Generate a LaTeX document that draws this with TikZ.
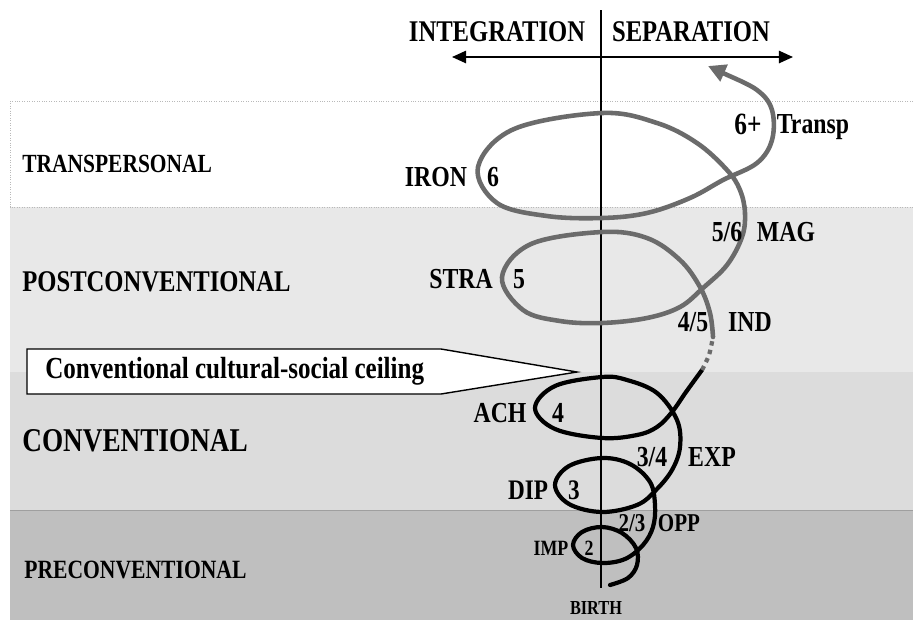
\documentclass[tikz,border=0pt]{standalone}
\usepackage{fontspec}
\setmainfont{Liberation Serif}[FakeStretch=0.82]
\usepackage{tikz}
\usetikzlibrary{arrows.meta}
\usepackage{xcolor}
\definecolor{postc}{HTML}{E8E8E8}
\definecolor{conc}{HTML}{DCDCDC}
\definecolor{prec}{HTML}{BFBFBF}
\definecolor{helixgray}{HTML}{6B6B6B}
\tikzset{lvl/.style={font=\bfseries\fontsize{17.1}{19}\selectfont, inner sep=0pt, anchor=west},
  stage/.style={font=\bfseries\fontsize{16.5}{18}\selectfont, inner sep=0pt, text depth=0pt},
  helix/.style={line width=2.4pt, line cap=round, line join=round}}

\begin{document}
\begin{tikzpicture}[x=0.02cm, y=-0.02cm]
\useasboundingbox (0,0) rectangle (913,620);
\fill[white] (0,0) rectangle (913,620);

\fill[postc] (10,207) rectangle (913,372);
\fill[conc] (10,372) rectangle (913,510);
\fill[prec] (10,510) rectangle (913,620);
\draw[densely dotted, gray!55] (913,101) -- (10,101) -- (10,207) -- (913,207);
\draw[gray!75] (10,510) -- (913,510);

\node[lvl, font=\bfseries\fontsize{14.9}{17}\selectfont] (transpers) at (22,164) {TRANSPERSONAL};
\node[lvl] (postconv) at (22,282) {POSTCONVENTIONAL};
\node[lvl, font=\bfseries\fontsize{18.9}{21}\selectfont] (conv) at (22,441) {CONVENTIONAL};
\node[lvl, font=\bfseries\fontsize{15}{17}\selectfont] (preconv) at (24,570) {PRECONVENTIONAL};

\coordinate (axtop) at (601,10);
\coordinate (axbot) at (601,588);
\draw[line width=1pt] (axtop) -- (axbot);
\coordinate (intl) at (452,57);
\coordinate (sepr) at (793,57);
\draw[line width=1pt, {Triangle[length=8pt,width=7pt]}-{Triangle[length=8pt,width=7pt]}] (intl) -- (sepr);
\node[stage, font=\bfseries\fontsize{17.1}{19}\selectfont] (integ) at (497,32) {INTEGRATION};
\node[stage, font=\bfseries\fontsize{17.1}{19}\selectfont] (separ) at (691,32) {SEPARATION};

\draw[fill=white, line width=0.8pt] (27,349) -- (441,349) -- (577,372) -- (441,394) -- (27,394) -- cycle;
\node[lvl, font=\bfseries\fontsize{17.4}{19}\selectfont] (ceiling) at (45,371) {Conventional cultural-social ceiling};

\draw[helix] plot[smooth, tension=0.6] coordinates {(610,585) (628,578) (637,565) (636,548) (622,533) (602,527) (582,532) (573,545) (582,558) (602,563) (625,559) (643,545) (653,527) (655,505) (650,482) (630,464) (602,458) (569,466) (555,485) (569,504) (602,512) (637,505) (656,490) (672,470) (680,447) (677,420) (657,393) (627,380) (602,377) (555,386) (535,408) (555,429) (602,438) (637,435) (657,427) (672,412) (686,392) (702,370)};
\draw[helix, helixgray, line cap=butt, dash pattern=on 2.5pt off 2.5pt] plot[smooth] coordinates {(702,370) (709,355) (713,337)};
\draw[helix, helixgray, line width=2.6pt, -{Triangle[length=10pt,width=10pt]}] plot[smooth, tension=0.6] coordinates {(713,337) (710,313) (700,287) (680,260) (647,238) (602,232) (531,244) (502,277) (523,310) (560,321) (602,323) (647,318) (680,307) (703,288) (727,265) (742,237) (745,213) (740,190) (727,170) (697,143) (657,123) (602,113) (514,129) (478,167) (497,203) (547,216) (602,218) (647,213) (690,198) (723,180) (757,163) (772,140) (772,110) (757,90) (723,73) (708,66)};

\node[stage, font=\bfseries\fontsize{17.6}{19}\selectfont] (sixplus) at (748,124) {6+};
\node[stage] (transp) at (813,124) {Transp};
\node[stage] (iron) at (436,177) {IRON};
\node[stage] (six) at (493,177) {6};
\node[stage] (fivesix) at (727,232) {5/6};
\node[stage] (mag) at (786,232) {MAG};
\node[stage] (stra) at (461,279) {STRA};
\node[stage] (five) at (519,279) {5};
\node[stage] (fourfive) at (693,322) {4/5};
\node[stage] (ind) at (750,322) {IND};
\node[stage] (ach) at (500,413) {ACH};
\node[stage] (four) at (558,413) {4};
\node[stage] (threefour) at (652,457) {3/4};
\node[stage] (exp) at (712,457) {EXP};
\node[stage, font=\bfseries\fontsize{16.1}{18}\selectfont] (dip) at (528,490) {DIP};
\node[stage, font=\bfseries\fontsize{16.1}{18}\selectfont] (three) at (574,490) {3};
\node[stage, font=\bfseries\fontsize{14.6}{16}\selectfont] (twothree) at (632,523) {2/3};
\node[stage, font=\bfseries\fontsize{14.6}{16}\selectfont] (opp) at (679,523) {OPP};
\node[stage, font=\bfseries\fontsize{12.4}{14}\selectfont] (imp) at (551,548) {IMP};
\node[stage, font=\bfseries\fontsize{12.4}{14}\selectfont] (two) at (589,548) {2};
\node[stage, font=\bfseries\fontsize{11.3}{13}\selectfont] (birth) at (596,608) {BIRTH};
\end{tikzpicture}
\end{document}
